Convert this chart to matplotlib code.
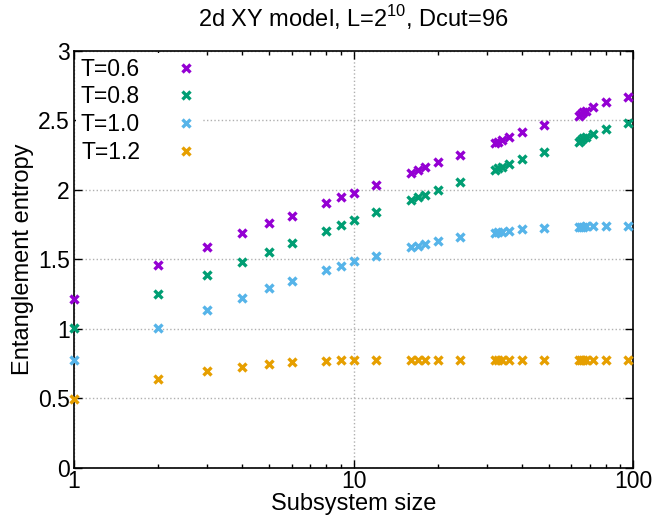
import matplotlib
matplotlib.use("Agg")
import matplotlib.pyplot as plt
from matplotlib.ticker import FixedLocator, NullFormatter

plt.rcParams['font.family'] = ['Liberation Sans', 'DejaVu Sans']
plt.rcParams['mathtext.fontset'] = 'custom'
plt.rcParams['mathtext.rm'] = 'Liberation Sans'

# subsystem sizes: 2^n and 2^n + 2^m
sizes = [1, 2, 3, 4, 5, 6, 8, 9, 10, 12, 16, 17, 18, 20, 24,
         32, 33, 34, 36, 40, 48, 64, 65, 66, 68, 72, 80, 96]

s_t06 = [1.214, 1.457, 1.591, 1.687, 1.759, 1.814, 1.903, 1.947, 1.980, 2.035,
         2.124, 2.143, 2.163, 2.199, 2.254, 2.336, 2.347, 2.360, 2.379, 2.415,
         2.468, 2.532, 2.547, 2.559, 2.571, 2.595, 2.631, 2.672]
s_t08 = [1.007, 1.252, 1.387, 1.483, 1.555, 1.615, 1.706, 1.745, 1.781, 1.838,
         1.927, 1.947, 1.966, 1.999, 2.057, 2.143, 2.156, 2.167, 2.184, 2.223,
         2.273, 2.347, 2.360, 2.372, 2.383, 2.403, 2.437, 2.484]
s_t10 = [0.777, 1.007, 1.137, 1.223, 1.291, 1.346, 1.423, 1.454, 1.485, 1.526,
         1.586, 1.598, 1.610, 1.632, 1.658, 1.692, 1.695, 1.698, 1.702, 1.716,
         1.723, 1.733, 1.735, 1.736, 1.737, 1.738, 1.742, 1.742]
s_t12 = [0.491, 0.635, 0.695, 0.726, 0.746, 0.758, 0.767, 0.772, 0.774, 0.775,
         0.775, 0.775, 0.775, 0.775, 0.775, 0.775, 0.775, 0.775, 0.775, 0.775,
         0.775, 0.775, 0.775, 0.775, 0.775, 0.775, 0.775, 0.775]

labels = ["T=0.6", "T=0.8", "T=1.0", "T=1.2"]
colors = ["#9400D3", "#009E73", "#56B4E9", "#E69F00"]

fig = plt.figure(figsize=(6.58, 5.15), dpi=100)
ax = fig.add_axes([0.1125, 0.092, 0.8495, 0.809])

for ys, lab, c in zip([s_t06, s_t08, s_t10, s_t12], labels, colors):
    ax.plot(sizes, ys, linestyle='none', marker='x', markersize=6,
            markeredgewidth=2.4, color=c, label=lab, clip_on=False, zorder=3)

ax.set_xscale('log')
ax.set_xlim(1, 100)
ax.set_ylim(0, 3)
ax.xaxis.set_major_locator(FixedLocator([1, 10, 100]))
ax.set_xticklabels(["1", "10", "100"])
ax.xaxis.set_minor_locator(FixedLocator([2, 3, 4, 5, 6, 7, 8, 9,
                                         20, 30, 40, 50, 60, 70, 80, 90]))
ax.xaxis.set_minor_formatter(NullFormatter())
ax.set_yticks([0, 0.5, 1, 1.5, 2, 2.5, 3])
ax.set_yticklabels(["0", "0.5", "1", "1.5", "2", "2.5", "3"])

ax.tick_params(which='both', direction='in', top=True, right=True,
               labelsize=16.5, pad=2)
ax.tick_params(axis='y', pad=3)
ax.tick_params(which='major', length=6, width=1)
ax.tick_params(which='minor', length=3, width=1)

ax.grid(True, which='major', color='#b0b0b0', linestyle=':', linewidth=1)
ax.set_axisbelow(True)
for sp in ax.spines.values():
    sp.set_linewidth(1.2)

ax.set_title("2d XY model, L=2$^{10}$, Dcut=96", fontsize=17, pad=17)
ax.set_xlabel("Subsystem size", fontsize=17, labelpad=0)
ax.set_ylabel("Entanglement entropy", fontsize=17, labelpad=3)

leg = ax.legend(loc='upper left', markerfirst=False, frameon=True,
                fontsize=16.5, handlelength=1.0, handletextpad=1.5,
                borderaxespad=0.1, borderpad=0.2, labelspacing=0.2,
                fancybox=False)
leg.get_frame().set_edgecolor('none')
leg.get_frame().set_facecolor('white')
leg.get_frame().set_alpha(1)
leg.set_zorder(5)

fig.savefig("out.png", dpi=100)
